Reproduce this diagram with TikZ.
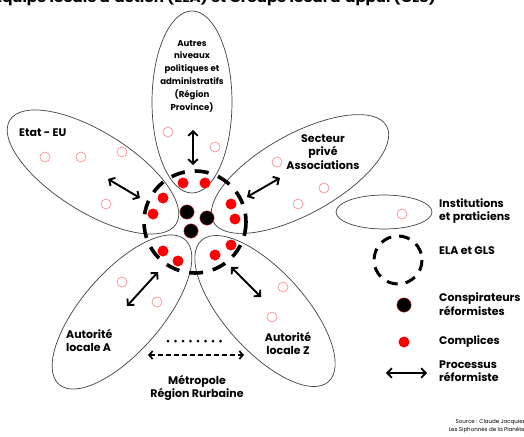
\documentclass[tikz,border=0pt]{standalone}
\usepackage{fontspec}
\setmainfont{Poppins}
\usetikzlibrary{arrows.meta}
\begin{document}
\begin{tikzpicture}[x=1pt,y=-1pt,
  petal/.style={draw=black!75, line width=0.7pt},
  inst/.style={circle, draw=red!50, line width=0.6pt, minimum size=10pt, inner sep=0pt},
  compl/.style={circle, fill=red, minimum size=11pt, inner sep=0pt},
  consp/.style={circle, fill=black, draw=red!70, line width=0.4pt, minimum size=14.5pt, inner sep=0pt},
  proc/.style={{Straight Barb[length=4.5pt,width=9.5pt]}-{Straight Barb[length=4.5pt,width=9.5pt]}, line width=1.9pt},
  elagls/.style={line width=3.6pt, dash pattern=on 14pt off 10pt},
  lbl/.style={font=\bfseries\fontsize{11}{13.5}\selectfont, align=left, inner sep=0pt},
  plbl/.style={font=\bfseries\fontsize{8.6}{12.8}\selectfont, align=center, inner sep=0pt}
]
\useasboundingbox (0,0) rectangle (524,436);
% title (cut off at top, as in the reference)
\node[anchor=base east, font=\bfseries\fontsize{12.5}{14}\selectfont, inner sep=0pt, xscale=1.2] (title) at (436,2.5) {Equipe locale d'action (ELA) et Groupe local d'appui (GLS)};
% petals
\draw[petal] (192,102) ellipse[x radius=40, y radius=91];
\draw[petal, rotate around={-32:(93,172)}] (93,172) ellipse[x radius=98, y radius=40];
\draw[petal, rotate around={29:(300,174)}] (300,174) ellipse[x radius=99, y radius=40];
\draw[petal, rotate around={49:(122,312)}] (122,312) ellipse[x radius=96, y radius=40];
\draw[petal, rotate around={-48:(265,311)}] (265,311) ellipse[x radius=95, y radius=40];
% ELA circle
\draw[elagls] (195,222) circle[radius=51];
% conspirators
\node[consp] (k1) at (187,212) {};
\node[consp] (k2) at (207,218) {};
\node[consp] (k3) at (191,231) {};
% complices
\node[compl] (c1) at (183,183) {};
\node[compl] (c2) at (205,183) {};
\node[compl] (c3) at (163,198) {};
\node[compl] (c4) at (153,214) {};
\node[compl] (c5) at (231,204) {};
\node[compl] (c6) at (235,219) {};
\node[compl] (c7) at (163,251) {};
\node[compl] (c8) at (178,261) {};
\node[compl] (c9) at (215,255) {};
\node[compl] (c10) at (231,245) {};
% institutions
\node[inst] (i1) at (168,132) {};
\node[inst] (i2) at (215,147) {};
\node[inst] (i3) at (45,157) {};
\node[inst] (i4) at (81,157) {};
\node[inst] (i5) at (122,152) {};
\node[inst] (i6) at (106,204) {};
\node[inst] (i7) at (277,162) {};
\node[inst] (i8) at (324,188) {};
\node[inst] (i9) at (298,204) {};
\node[inst] (i10) at (122,282) {};
\node[inst] (i11) at (157,302) {};
\node[inst] (i12) at (283,287) {};
\node[inst] (i13) at (272,317) {};
% process arrows
\coordinate (a1) at (193,130); \coordinate (b1) at (193,165);
\coordinate (a2) at (108,179); \coordinate (b2) at (140,198);
\coordinate (a3) at (280,178); \coordinate (b3) at (247,197);
\coordinate (a4) at (158,272); \coordinate (b4) at (127,306);
\coordinate (a5) at (231,267); \coordinate (b5) at (261,297);
\draw[proc] (a1) -- (b1);
\draw[proc] (a2) -- (b2);
\draw[proc] (a3) -- (b3);
\draw[proc] (a4) -- (b4);
\draw[proc] (a5) -- (b5);
% metropole arrow
\coordinate (m1) at (148,355); \coordinate (m2) at (244,355);
\coordinate (d1) at (168,341); \coordinate (d2) at (224,341);
\draw[{Straight Barb[length=3.5pt,width=8pt]}-{Straight Barb[length=3.5pt,width=8pt]}, line width=1.7pt, dash pattern=on 5pt off 3pt] (m1) -- (m2);
\draw[line width=3pt, line cap=round, dash pattern=on 0pt off 7.5pt] (d1) -- (d2);
% petal labels
\node[plbl] (tp) at (192,76) {Autres\\niveaux\\politiques et\\administratifs\\(Région\\Province)};
\node[lbl, anchor=west] (te) at (19,133) {Etat - EU};
\node[lbl, align=center] (ts) at (323,152) {Secteur\\privé\\Associations};
\node[lbl, anchor=north west] (ta) at (66,329) {Autorité\\locale A};
\node[lbl, align=center, anchor=north] (tz) at (288,332) {Autorité\\locale Z};
\node[lbl, align=center, anchor=north] (tm) at (197,375) {Métropole\\Région Rurbaine};
% legend
\draw[petal] (384,212) ellipse[x radius=48, y radius=17];
\node[inst] (li) at (402,214) {};
\draw[line width=3pt, dash pattern=on 11pt off 8pt] (398,260) circle[radius=24];
\node[consp] (lk) at (404,305) {};
\node[compl] (lc) at (404,342) {};
\coordinate (la) at (386,373); \coordinate (lb) at (427,373);
\draw[proc] (la) -- (lb);
\node[lbl, anchor=west] (l1) at (439,211) {Institutions\\et praticiens};
\node[lbl, anchor=west] (l2) at (439,251) {ELA et GLS};
\node[lbl, anchor=west] (l3) at (439,304) {Conspirateurs\\réformistes};
\node[lbl, anchor=west] (l4) at (439,342) {Complices};
\node[lbl, anchor=west] (l5) at (439,371) {Processus\\réformiste};
% source
\node[anchor=north east, font=\fontsize{5.5}{8}\selectfont, align=right, inner sep=0pt] (src) at (525,419) {Source : Claude Jacquier\\Les Siphonnés de la Planète};
\end{tikzpicture}
\end{document}
